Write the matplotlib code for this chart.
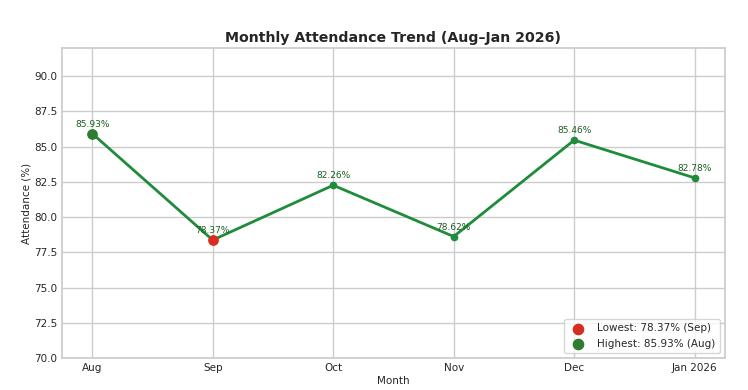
import matplotlib
matplotlib.use("Agg")
import matplotlib.pyplot as plt
import seaborn as sns

months = ["Aug", "Sep", "Oct", "Nov", "Dec", "Jan 2026"]
attendance = [85.93, 78.37, 82.26, 78.62, 85.46, 82.78]

sns.set_theme(style="whitegrid")
plt.rcParams['font.family'] = ['DejaVu Sans']

fig, ax = plt.subplots(figsize=(7.48, 3.9), dpi=100)

x = list(range(len(months)))
ax.plot(x, attendance, color="#1e8c3a", linewidth=2, marker="o", markersize=4.5)

# lowest / highest points
lo = attendance.index(min(attendance))
hi = attendance.index(max(attendance))
ax.scatter([x[lo]], [attendance[lo]], color="#d62d20", s=45, zorder=5,
           label=f"Lowest: {attendance[lo]:.2f}% ({months[lo]})")
ax.scatter([x[hi]], [attendance[hi]], color="#2e7d32", s=45, zorder=5,
           label=f"Highest: {attendance[hi]:.2f}% ({months[hi]})")

# value labels
for xi, v in zip(x, attendance):
    ax.annotate(f"{v:.2f}%", (xi, v), textcoords="offset points", xytext=(0, 5),
                ha="center", fontsize=6.5, color="#1b5e20")

ax.set_xticks(x)
ax.set_xticklabels(months)
ax.set_ylim(70, 92)
ax.set_title("Monthly Attendance Trend (Aug–Jan 2026)", fontsize=10.2, fontweight="bold", pad=4.5)
ax.set_xlabel("Month", fontsize=7.5, labelpad=2)
ax.set_ylabel("Attendance (%)", fontsize=7.5, labelpad=1.5)
ax.tick_params(labelsize=7.5, length=0, pad=3.5)
ax.legend(loc="lower right", fontsize=7.5, markerscale=1.1)

fig.subplots_adjust(left=0.083, right=0.969, top=0.877, bottom=0.082)
fig.savefig("out.png", dpi=100)
